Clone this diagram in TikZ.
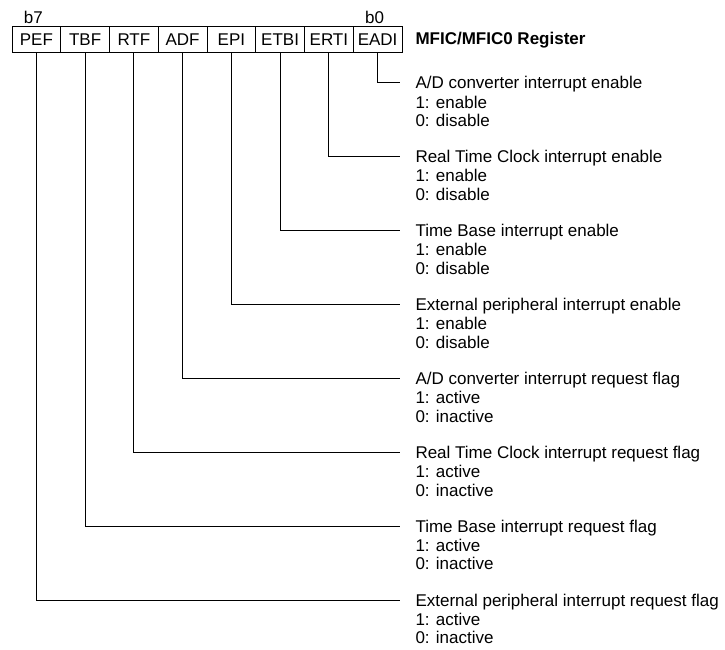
\documentclass[tikz,border=0pt]{standalone}
\usepackage{fontspec}
\setmainfont{Liberation Sans}
\usepackage{tikz}
\usetikzlibrary{positioning}

\begin{document}
\begin{tikzpicture}[x=1pt, y=-1pt, line width=1pt, every node/.style={font=\fontsize{17}{18.5}\selectfont}]
\tikzstyle{bitcell}=[draw, minimum width=48.75pt, minimum height=26pt, inner sep=0pt, outer sep=0pt]
\tikzstyle{desc}=[anchor=west, inner sep=0pt, text height=12pt, text depth=0pt]
\tikzstyle{vals}=[align=left, inner sep=0pt, anchor=north west]
\useasboundingbox (0,0) rectangle (725,650);
% register cells, b7 .. b0
\node[bitcell, anchor=north west] (pef) at (12,27) {PEF};
\node[bitcell, right=0pt of pef] (tbf) {TBF};
\node[bitcell, right=0pt of tbf] (rtf) {RTF};
\node[bitcell, right=0pt of rtf] (adf) {ADF};
\node[bitcell, right=0pt of adf] (epi) {EPI};
\node[bitcell, right=0pt of epi] (etbi) {ETBI};
\node[bitcell, right=0pt of etbi] (erti) {ERTI};
\node[bitcell, right=0pt of erti] (eadi) {EADI};
\node[above=3pt of pef, xshift=-3pt, inner sep=0pt] (bhi) {b7};
\node[above=3pt of eadi, xshift=-3pt, inner sep=0pt] (blo) {b0};
\node[right=13pt of eadi, inner sep=0pt, font=\fontsize{17}{18.5}\selectfont\bfseries] (reg) {MFIC/MFIC0 Register};
% bit descriptions
\node[desc] (eadiT) at (415,82.7) {A/D converter interrupt enable};
\node[vals, below=6pt of eadiT.south west, anchor=north west] (eadiV) {1: enable\\0: disable};
\node[desc] (ertiT) at (415,156.6) {Real Time Clock interrupt enable};
\node[vals, below=6pt of ertiT.south west, anchor=north west] (ertiV) {1: enable\\0: disable};
\node[desc] (etbiT) at (415,230.5) {Time Base interrupt enable};
\node[vals, below=6pt of etbiT.south west, anchor=north west] (etbiV) {1: enable\\0: disable};
\node[desc] (epiT) at (415,304.4) {External peripheral interrupt enable};
\node[vals, below=6pt of epiT.south west, anchor=north west] (epiV) {1: enable\\0: disable};
\node[desc] (adfT) at (415,378.3) {A/D converter interrupt request flag};
\node[vals, below=6pt of adfT.south west, anchor=north west] (adfV) {1: active\\0: inactive};
\node[desc] (rtfT) at (415,452.2) {Real Time Clock interrupt request flag};
\node[vals, below=6pt of rtfT.south west, anchor=north west] (rtfV) {1: active\\0: inactive};
\node[desc] (tbfT) at (415,526.1) {Time Base interrupt request flag};
\node[vals, below=6pt of tbfT.south west, anchor=north west] (tbfV) {1: active\\0: inactive};
\node[desc] (pefT) at (415,600) {External peripheral interrupt request flag};
\node[vals, below=6pt of pefT.south west, anchor=north west] (pefV) {1: active\\0: inactive};
% leader lines
\draw (eadi.south) |- ([xshift=-15pt]eadiT.west);
\draw (erti.south) |- ([xshift=-15pt]ertiT.west);
\draw (etbi.south) |- ([xshift=-15pt]etbiT.west);
\draw (epi.south) |- ([xshift=-15pt]epiT.west);
\draw (adf.south) |- ([xshift=-15pt]adfT.west);
\draw (rtf.south) |- ([xshift=-15pt]rtfT.west);
\draw (tbf.south) |- ([xshift=-15pt]tbfT.west);
\draw (pef.south) |- ([xshift=-15pt]pefT.west);
\end{tikzpicture}
\end{document}
